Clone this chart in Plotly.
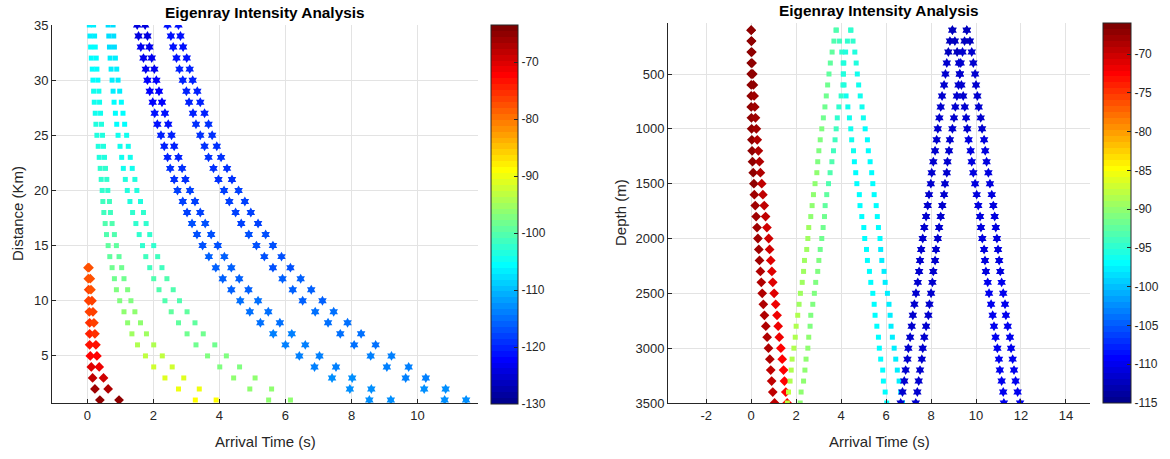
import plotly.graph_objects as go

# ---------------- LEFT PANEL DATA (distance vs arrival time) ----------------
DIST_KM = [1, 2, 3, 4, 5, 6, 7, 8, 9, 10, 11, 12, 13, 14, 15, 16, 17, 18, 19, 20,
           21, 22, 23, 24, 25, 26, 27, 28, 29, 30, 31, 32, 33, 34, 35]
DIST_DIA_KM = [1, 2, 3, 4, 5, 6, 7, 8, 9, 10, 11, 12, 13]

# diamonds (strongest arrivals)
DIA1_T = [0.38, 0.23, 0.16, 0.12, 0.09, 0.07, 0.07, 0.07, 0.06, 0.04, 0.04, 0.03, 0.02]
DIA2_T = [0.96, 0.63, 0.49, 0.36, 0.29, 0.26, 0.23, 0.20, 0.17, 0.14, 0.11, 0.09, 0.05]
DIA1_LVL = [-65.0, -66.0, -68.0, -70.5, -72.0, -73.0, -74.5, -75.5, -76.0, -76.5, -77.0, -77.5, -78.0]
DIA2_LVL = [-65.5, -67.0, -69.0, -71.0, -72.5, -73.5, -75.0, -76.0, -76.5, -77.0, -77.5, -78.0, -78.0]

# squares
SQA_T = [3.27, 2.76, 2.35, 2.01, 1.76, 1.52, 1.35, 1.22, 1.11, 0.98, 0.88, 0.82, 0.75, 0.68, 0.63,
         0.58, 0.54, 0.50, 0.47, 0.45, 0.42, 0.39, 0.36, 0.33, 0.29, 0.26, 0.24, 0.21, 0.19, 0.17,
         0.15, 0.12, 0.10, 0.08, 0.06]
SQB_T = [3.90, 3.39, 2.92, 2.57, 2.27, 2.01, 1.79, 1.61, 1.44, 1.32, 1.22, 1.11, 1.04, 0.96, 0.88,
         0.82, 0.75, 0.70, 0.67, 0.62, 0.59, 0.55, 0.52, 0.49, 0.46, 0.43, 0.40, 0.37, 0.35, 0.32,
         0.29, 0.27, 0.24, 0.22, 0.19]
SQC_T = [5.49, 4.92, 4.43, 4.01, 3.64, 3.29, 3.02, 2.76, 2.54, 2.35, 2.17, 2.01, 1.89, 1.77, 1.67,
         1.57, 1.47, 1.37, 1.29, 1.21, 1.15, 1.09, 1.04, 0.99, 0.93, 0.89, 0.85, 0.81, 0.78, 0.75,
         0.72, 0.69, 0.67, 0.65, 0.63]
SQD_T = [6.15, 5.58, 5.08, 4.61, 4.21, 3.86, 3.51, 3.26, 3.02, 2.79, 2.60, 2.41, 2.26, 2.13, 2.01,
         1.89, 1.78, 1.70, 1.61, 1.50, 1.44, 1.36, 1.30, 1.24, 1.19, 1.13, 1.08, 1.03, 0.98, 0.93,
         0.89, 0.85, 0.82, 0.80, 0.78]
SQAB_LVL = [-89.0, -90.0, -91.0, -92.5, -93.5, -94.5, -95.5, -96.0, -96.5, -97.0, -97.5, -98.0,
            -98.5, -99.0, -99.5, -100.0, -100.5, -101.0, -101.5, -102.0, -102.5, -102.8, -103.1,
            -103.4, -103.7, -104.0, -104.3, -104.6, -104.9, -105.2, -105.5, -105.8, -106.1,
            -106.4, -106.7]
SQCD_LVL = [-96.0, -96.5, -96.5, -97.0, -97.5, -98.0, -98.5, -99.0, -99.5, -100.0, -100.4,
            -100.8, -101.2, -101.6, -102.0, -102.3, -102.6, -102.9, -103.2, -103.5, -103.8,
            -104.1, -104.4, -104.7, -105.0, -105.3, -105.6, -105.9, -106.2, -106.5, -106.8,
            -107.1, -107.4, -107.7, -108.0]

# hexagram stars
STE_T = [8.54, 7.95, 7.41, 6.88, 6.42, 6.00, 5.63, 5.24, 4.92, 4.63, 4.36, 4.10, 3.89, 3.68, 3.49,
         3.32, 3.17, 3.02, 2.89, 2.73, 2.63, 2.51, 2.43, 2.33, 2.23, 2.12, 2.04, 1.98, 1.89, 1.82,
         1.77, 1.70, 1.62, 1.55, 1.51]
STF_T = [9.19, 8.60, 8.02, 7.53, 7.03, 6.60, 6.19, 5.83, 5.48, 5.17, 4.88, 4.60, 4.36, 4.15, 3.95,
         3.75, 3.57, 3.42, 3.26, 3.11, 2.97, 2.87, 2.76, 2.63, 2.55, 2.45, 2.35, 2.26, 2.17, 2.09,
         2.03, 1.95, 1.88, 1.82, 1.75]
STG_T = [10.82, 10.20, 9.64, 9.07, 8.58, 8.08, 7.66, 7.29, 6.90, 6.52, 6.22, 5.91, 5.62, 5.36,
         5.12, 4.89, 4.66, 4.49, 4.30, 4.14, 3.97, 3.82, 3.67, 3.55, 3.42, 3.29, 3.20, 3.08, 3.00,
         2.89, 2.79, 2.70, 2.60, 2.53, 2.43]
STH_T = [11.47, 10.85, 10.25, 9.73, 9.21, 8.73, 8.29, 7.88, 7.46, 7.12, 6.78, 6.46, 6.15, 5.88,
         5.62, 5.40, 5.17, 4.95, 4.77, 4.58, 4.38, 4.23, 4.05, 3.92, 3.78, 3.67, 3.55, 3.42, 3.33,
         3.19, 3.10, 3.01, 2.90, 2.82, 2.76]
STEF_LVL = [-112.5, -112.8, -113.1, -113.4, -113.7, -114.0, -114.3, -114.6, -114.9, -115.2,
            -115.5, -115.8, -116.1, -116.4, -116.7, -117.0, -117.3, -117.7, -118.1, -118.5,
            -118.9, -119.3, -119.7, -120.1, -120.5, -120.9, -121.3, -121.7, -122.1, -122.5,
            -122.9, -123.3, -123.7, -124.1, -124.5]
STGH_LVL = [-113.0, -113.3, -113.6, -113.9, -114.2, -114.5, -114.8, -115.1, -115.4, -115.7,
            -116.0, -116.3, -116.6, -116.9, -117.2, -117.5, -117.8, -118.0, -118.2, -118.4,
            -118.6, -118.8, -119.0, -119.2, -119.4, -119.6, -119.8, -120.0, -120.2, -120.4,
            -120.6, -120.8, -121.0, -121.2, -121.4]

# ---------------- RIGHT PANEL DATA (depth vs arrival time) ----------------
DEPTH_M = [100, 200, 300, 400, 500, 600, 700, 800, 900, 1000, 1100, 1200, 1300, 1400, 1500,
           1600, 1700, 1800, 1900, 2000, 2100, 2200, 2300, 2400, 2500, 2600, 2700, 2800, 2900,
           3000, 3100, 3200, 3300, 3400, 3500]

RDIA1_T = [0.00, 0.00, 0.00, 0.00, 0.00, 0.00, 0.00, 0.00, 0.01, 0.02, 0.03, 0.04, 0.06, 0.09,
           0.12, 0.14, 0.18, 0.22, 0.26, 0.30, 0.34, 0.37, 0.41, 0.45, 0.49, 0.54, 0.59, 0.65,
           0.71, 0.77, 0.83, 0.87, 0.91, 0.96, 1.04]
RDIA2_T = [0.00, 0.02, 0.03, 0.04, 0.07, 0.10, 0.13, 0.16, 0.19, 0.23, 0.27, 0.32, 0.37, 0.41,
           0.47, 0.52, 0.58, 0.64, 0.70, 0.78, 0.82, 0.87, 0.92, 0.96, 1.02, 1.09, 1.15, 1.20,
           1.25, 1.32, 1.38, 1.44, 1.48, 1.54, 1.60]
RDIA1_LVL = [-66.6, -66.6, -66.7, -66.7, -66.8, -66.8, -66.9, -66.9, -67.0, -67.0, -67.1, -67.2,
             -67.3, -67.4, -67.5, -67.6, -67.7, -67.8, -67.9, -68.0, -68.1, -68.2, -68.3, -68.4,
             -68.5, -68.6, -68.7, -68.8, -68.9, -69.0, -69.0, -69.1, -69.1, -69.2, -69.2]
RDIA2_LVL = [-66.8, -66.9, -67.0, -67.1, -67.2, -67.4, -67.6, -67.8, -68.0, -68.2, -68.4, -68.6,
             -68.8, -69.0, -69.2, -69.4, -69.6, -69.8, -70.0, -70.2, -70.4, -70.6, -70.8, -71.0,
             -71.2, -71.4, -71.6, -71.8, -72.0, -72.2, -72.3, -72.4, -72.5, -72.6, -72.8]

RSQP_T = [3.78, 3.68, 3.60, 3.52, 3.46, 3.40, 3.34, 3.28, 3.21, 3.14, 3.07, 3.01, 2.96, 2.92,
          2.84, 2.77, 2.71, 2.65, 2.56, 2.52, 2.47, 2.37, 2.33, 2.27, 2.19, 2.13, 2.07, 2.00,
          1.96, 1.90, 1.82, 1.78, 1.73, 1.66, 1.61]
RSQQ_T = [3.78, 3.93, 4.03, 4.09, 4.10, 4.08, 4.00, 3.90, 3.83, 3.78, 3.73, 3.66, 3.59, 3.51,
          3.44, 3.36, 3.29, 3.26, 3.20, 3.14, 3.07, 3.01, 2.96, 2.87, 2.81, 2.74, 2.65, 2.62,
          2.56, 2.52, 2.44, 2.39, 2.33, 2.22, 2.18]
RSQR_T = [4.43, 4.28, 4.20, 4.12, 4.10, 4.13, 4.22, 4.30, 4.37, 4.43, 4.47, 4.55, 4.59, 4.65,
          4.70, 4.81, 4.84, 4.92, 5.01, 5.05, 5.13, 5.17, 5.26, 5.32, 5.41, 5.47, 5.51, 5.59,
          5.66, 5.70, 5.76, 5.85, 5.88, 5.96, 6.03]
RSQS_T = [4.43, 4.53, 4.61, 4.67, 4.72, 4.78, 4.85, 4.93, 4.99, 5.07, 5.17, 5.21, 5.29, 5.36,
          5.41, 5.47, 5.56, 5.61, 5.66, 5.73, 5.76, 5.81, 5.91, 5.96, 6.06, 6.13, 6.18, 6.22,
          6.28, 6.36, 6.43, 6.50, 6.58, 6.65, 6.73]
RSQP_LVL = [-93.0, -92.8, -92.6, -92.4, -92.2, -92.0, -91.8, -91.6, -91.4, -91.2, -91.0, -90.8,
            -90.6, -90.4, -90.2, -90.0, -89.9, -89.8, -89.7, -89.6, -89.5, -89.4, -89.3, -89.2,
            -89.1, -89.0, -88.9, -88.8, -88.7, -88.6, -88.5, -88.4, -88.3, -88.2, -88.0]
RSQQ_LVL = [-93.5, -94.0, -94.5, -95.0, -95.0, -95.0, -94.8, -94.6, -94.4, -94.2, -94.0, -93.7,
            -93.4, -93.1, -92.8, -92.5, -92.2, -91.9, -91.6, -91.4, -91.3, -91.2, -91.1, -91.0,
            -90.9, -90.8, -90.7, -90.6, -90.5, -90.4, -90.3, -90.2, -90.1, -90.0, -89.9]
RSQR_LVL = [-94.5, -94.8, -95.1, -95.4, -95.6, -95.8, -96.0, -96.2, -96.4, -96.5, -96.6, -96.6,
            -96.7, -96.7, -96.8, -96.8, -96.8, -96.9, -96.9, -96.9, -97.0, -97.0, -97.0, -97.0,
            -97.1, -97.1, -97.1, -97.1, -97.1, -97.2, -97.2, -97.2, -97.2, -97.2, -97.2]
RSQS_LVL = [-94.5, -94.9, -95.3, -95.6, -95.9, -96.1, -96.3, -96.5, -96.6, -96.7, -96.8, -96.9,
            -97.0, -97.0, -97.1, -97.1, -97.2, -97.2, -97.3, -97.3, -97.4, -97.4, -97.4, -97.5,
            -97.5, -97.5, -97.6, -97.6, -97.6, -97.7, -97.7, -97.7, -97.8, -97.8, -97.8]

RSTW_T = [8.95, 8.84, 8.77, 8.70, 8.64, 8.58, 8.49, 8.43, 8.37, 8.30, 8.25, 8.18, 8.10, 8.03,
          7.99, 7.91, 7.85, 7.78, 7.70, 7.63, 7.56, 7.51, 7.47, 7.41, 7.33, 7.26, 7.19, 7.14,
          7.07, 6.99, 6.95, 6.87, 6.81, 6.73, 6.65]
RSTX_T = [8.95, 9.06, 9.16, 9.24, 9.28, 9.22, 9.15, 9.08, 9.02, 8.95, 8.84, 8.80, 8.73, 8.70,
          8.62, 8.58, 8.50, 8.43, 8.36, 8.30, 8.22, 8.18, 8.10, 8.06, 8.00, 7.93, 7.88, 7.78,
          7.70, 7.63, 7.59, 7.51, 7.45, 7.39, 7.32]
RSTY_T = [9.59, 9.49, 9.40, 9.32, 9.28, 9.35, 9.43, 9.50, 9.56, 9.61, 9.67, 9.76, 9.81, 9.88,
          9.96, 10.03, 10.10, 10.18, 10.22, 10.28, 10.36, 10.40, 10.44, 10.52, 10.58, 10.67,
          10.74, 10.80, 10.87, 10.95, 11.02, 11.06, 11.14, 11.21, 11.24]
RSTZ_T = [9.59, 9.73, 9.81, 9.88, 9.96, 10.00, 10.06, 10.12, 10.21, 10.27, 10.36, 10.41, 10.47,
          10.55, 10.62, 10.70, 10.77, 10.83, 10.88, 10.93, 10.98, 11.03, 11.08, 11.14, 11.21,
          11.29, 11.33, 11.41, 11.51, 11.56, 11.63, 11.69, 11.76, 11.85, 11.96]
RSTWX_LVL = [-112.0, -112.0, -112.0, -111.9, -111.9, -111.9, -111.8, -111.8, -111.8, -111.7,
             -111.7, -111.7, -111.7, -111.6, -111.6, -111.6, -111.6, -111.5, -111.5, -111.5,
             -111.5, -111.5, -111.4, -111.4, -111.4, -111.4, -111.4, -111.3, -111.3, -111.3,
             -111.3, -111.3, -111.3, -111.3, -111.3]
RSTYZ_LVL = [-112.0, -112.0, -111.9, -111.8, -111.7, -111.6, -111.5, -111.4, -111.3, -111.2,
             -111.1, -111.0, -110.9, -110.9, -110.8, -110.8, -110.7, -110.7, -110.6, -110.6,
             -110.5, -110.5, -110.5, -110.4, -110.4, -110.4, -110.3, -110.3, -110.3, -110.3,
             -110.2, -110.2, -110.2, -110.2, -110.2]

LEFT_XTICKS = [0, 2, 4, 6, 8, 10]
LEFT_YTICKS = [5, 10, 15, 20, 25, 30, 35]
RIGHT_XTICKS = [-2, 0, 2, 4, 6, 8, 10, 12, 14]
RIGHT_YTICKS = [500, 1000, 1500, 2000, 2500, 3000, 3500]
LEFT_CBTICKS = [-130, -120, -110, -100, -90, -80, -70]
RIGHT_CBTICKS = [-115, -110, -105, -100, -95, -90, -85, -80, -75, -70]


# ---------------- MATLAB jet(64) colormap ----------------
def jet64():
    m = 64
    n = 16
    u = [i / n for i in range(1, n + 1)] + [1.0] * (n - 1) + [i / n for i in range(n, 0, -1)]
    L = len(u)
    g = [n // 2 + k for k in range(1, L + 1)]
    r = [x + n for x in g]
    b = [x - n for x in g]
    J = [[0.0, 0.0, 0.0] for _ in range(m)]
    rr = [x for x in r if x <= m]
    gg = [x for x in g if x <= m]
    bb = [x for x in b if x >= 1]
    for k, idx in enumerate(rr):
        J[idx - 1][0] = u[k]
    for k, idx in enumerate(gg):
        J[idx - 1][1] = u[k]
    off = L - len(bb)
    for k, idx in enumerate(bb):
        J[idx - 1][2] = u[off + k]
    scale = []
    for i, c in enumerate(J):
        col = "rgb(%d,%d,%d)" % tuple(round(255 * v) for v in c)
        scale.append([i / m, col])
        scale.append([(i + 1) / m, col])
    return scale


def hy(vals):
    return [str(v) for v in vals]  # plain ASCII hyphen-minus, as in the original


JET = jet64()
FONT = "Liberation Sans, Arial, Helvetica, sans-serif"
TXT = "#262626"

fig = go.Figure()


def add(xv, yv, lvl, symbol, size, xa, ya, cax):
    fig.add_trace(go.Scatter(
        x=xv, y=yv, mode="markers", xaxis=xa, yaxis=ya, showlegend=False,
        hoverinfo="skip",
        marker=dict(symbol=symbol, size=size, color=lvl, coloraxis=cax,
                    line=dict(width=0))))


DIA_SIZE, SQ_SIZE, STAR_SIZE = 7.5, 5, 7.5

# left panel
add(DIA1_T, DIST_DIA_KM, DIA1_LVL, "diamond", DIA_SIZE, "x", "y", "coloraxis")
add(DIA2_T, DIST_DIA_KM, DIA2_LVL, "diamond", DIA_SIZE, "x", "y", "coloraxis")
for t, lv in [(SQA_T, SQAB_LVL), (SQB_T, SQAB_LVL), (SQC_T, SQCD_LVL), (SQD_T, SQCD_LVL)]:
    add(t, DIST_KM, lv, "square", SQ_SIZE, "x", "y", "coloraxis")
for t, lv in [(STE_T, STEF_LVL), (STF_T, STEF_LVL), (STG_T, STGH_LVL), (STH_T, STGH_LVL)]:
    add(t, DIST_KM, lv, "hexagram", STAR_SIZE, "x", "y", "coloraxis")

# right panel
add(RDIA1_T, DEPTH_M, RDIA1_LVL, "diamond", DIA_SIZE, "x2", "y2", "coloraxis2")
add(RDIA2_T, DEPTH_M, RDIA2_LVL, "diamond", DIA_SIZE, "x2", "y2", "coloraxis2")
for t, lv in [(RSQP_T, RSQP_LVL), (RSQQ_T, RSQQ_LVL), (RSQR_T, RSQR_LVL), (RSQS_T, RSQS_LVL)]:
    add(t, DEPTH_M, lv, "square", SQ_SIZE, "x2", "y2", "coloraxis2")
for t, lv in [(RSTW_T, RSTWX_LVL), (RSTX_T, RSTWX_LVL), (RSTY_T, RSTYZ_LVL), (RSTZ_T, RSTYZ_LVL)]:
    add(t, DEPTH_M, lv, "hexagram", STAR_SIZE, "x2", "y2", "coloraxis2")

W, H = 1170, 459


def px_x(p):
    return p / W


def px_y(p):
    return 1 - p / H


axis_common = dict(showgrid=True, gridcolor="#e3e3e3", gridwidth=1, zeroline=False,
                   showline=True, linecolor=TXT, linewidth=1, ticks="inside", ticklen=4,
                   tickcolor=TXT, tickfont=dict(family=FONT, size=13, color=TXT),
                   mirror=False, automargin=False)

cb_common = dict(thicknessmode="pixels", lenmode="fraction", xanchor="left", yanchor="bottom",
                 ticks="inside", ticklen=4, tickcolor=TXT, outlinecolor=TXT, outlinewidth=1,
                 xpad=0, ypad=0, tickfont=dict(family=FONT, size=12, color=TXT))

fig.update_layout(
    width=W, height=H, margin=dict(l=0, r=0, t=0, b=0, autoexpand=False),
    paper_bgcolor="white", plot_bgcolor="white",
    font=dict(family=FONT, color=TXT),
    xaxis=dict(domain=[px_x(52), px_x(478)], range=[-1.07, 11.83], tickvals=LEFT_XTICKS,
               ticktext=hy(LEFT_XTICKS), anchor="y", **axis_common),
    yaxis=dict(domain=[px_y(403), px_y(25)], range=[0.73, 35], tickvals=LEFT_YTICKS,
               ticktext=hy(LEFT_YTICKS), anchor="x", **axis_common),
    xaxis2=dict(domain=[px_x(668), px_x(1090)], range=[-3.7, 15.07], tickvals=RIGHT_XTICKS,
                ticktext=hy(RIGHT_XTICKS), anchor="y2", **axis_common),
    yaxis2=dict(domain=[px_y(403), px_y(23)], range=[3500, 35], tickvals=RIGHT_YTICKS,
                ticktext=hy(RIGHT_YTICKS), anchor="x2", **axis_common),
    coloraxis=dict(colorscale=JET, cmin=-130, cmax=-63.5,
                   colorbar=dict(x=px_x(491), y=px_y(404), len=(404 - 25) / H, thickness=27,
                                 tickvals=LEFT_CBTICKS, ticktext=hy(LEFT_CBTICKS), **cb_common)),
    coloraxis2=dict(colorscale=JET, cmin=-115, cmax=-66,
                    colorbar=dict(x=px_x(1103), y=px_y(403), len=(403 - 23) / H, thickness=28,
                                  tickvals=RIGHT_CBTICKS, ticktext=hy(RIGHT_CBTICKS), **cb_common)),
)

ann = [
    dict(text="<b>Eigenray Intensity Analysis</b>", x=px_x(265), y=px_y(12), size=15.4, color="#000000", angle=0),
    dict(text="<b>Eigenray Intensity Analysis</b>", x=px_x(879), y=px_y(11), size=15.4, color="#000000", angle=0),
    dict(text="Arrival Time (s)", x=px_x(265), y=px_y(441), size=15, color=TXT, angle=0),
    dict(text="Arrival Time (s)", x=px_x(879), y=px_y(441), size=15, color=TXT, angle=0),
    dict(text="Distance (Km)", x=px_x(17), y=px_y(214), size=15, color=TXT, angle=-90),
    dict(text="Depth (m)", x=px_x(620), y=px_y(213), size=15, color=TXT, angle=-90),
]
for a in ann:
    fig.add_annotation(text=a["text"], x=a["x"], y=a["y"], xref="paper", yref="paper",
                       xanchor="center", yanchor="middle", showarrow=False,
                       textangle=a["angle"],
                       font=dict(family=FONT, size=a["size"], color=a["color"]))

fig.write_html("out.html", config={"displayModeBar": False},
               post_script="document.body.style.margin='0';document.body.style.overflow='hidden';")
